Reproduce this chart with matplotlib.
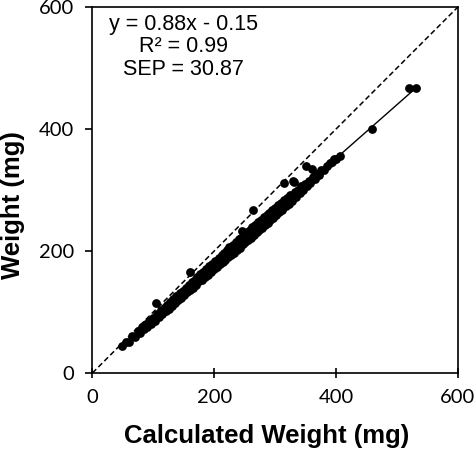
import numpy as np
import matplotlib.pyplot as plt

# calculated weight (mg) vs measured weight (mg)
calc_w = [55, 60, 65, 70, 74, 78, 82, 85, 88, 90, 93, 96, 99, 102, 105, 106,
          109, 112, 114, 117, 120, 122, 125, 128, 130, 133, 135, 138, 140, 143,
          146, 148, 150, 153, 156, 158, 160, 161, 163, 165, 168, 170, 172, 175,
          177, 180, 182, 185, 187, 190, 192, 195, 197, 200, 202, 204, 207, 209,
          212, 214, 216, 218, 221, 223, 225, 228, 230, 232, 235, 237, 240, 242,
          244, 245, 247, 249, 251, 254, 256, 258, 260, 262, 264, 265, 267, 270,
          272, 274, 277, 279, 281, 283, 286, 288, 290, 292, 295, 297, 300, 302,
          305, 307, 310, 312, 314, 315, 317, 320, 322, 325, 327, 330, 331, 332,
          334, 337, 340, 343, 346, 349, 351, 352, 355, 358, 361, 362, 365, 368,
          372, 376, 380, 385, 390, 393, 396, 400, 406, 459, 519, 531,
          49, 150, 180, 210, 240, 270, 300, 330, 200, 260, 290, 120, 90, 170,
          230, 250, 280, 310, 320, 190, 220, 140, 110, 130, 160]
weight = [50, 50, 60, 59, 68, 66, 76, 72, 80, 76, 86, 81, 90, 86, 115, 97,
          92, 103, 96, 107, 101, 112, 105, 117, 110, 122, 114, 126, 120, 131,
          123, 135, 128, 140, 132, 145, 136, 165, 149, 140, 153, 144, 157, 150,
          162, 153, 166, 158, 171, 161, 175, 166, 179, 170, 184, 174, 189, 178,
          193, 182, 197, 185, 201, 190, 206, 194, 209, 197, 214, 202, 219, 205,
          222, 233, 211, 227, 214, 231, 218, 235, 222, 239, 267, 226, 243, 231,
          247, 234, 251, 238, 255, 242, 259, 246, 263, 250, 267, 254, 271, 259,
          275, 264, 279, 268, 312, 283, 273, 287, 277, 291, 282, 314, 313, 296,
          289, 300, 295, 306, 300, 310, 339, 306, 315, 311, 334, 322, 318, 326,
          325, 333, 332, 340, 344, 346, 350, 351, 355, 400, 467, 467,
          44, 132, 158, 185, 211, 238, 264, 290, 176, 229, 255, 106, 79, 150,
          202, 220, 246, 273, 282, 167, 194, 123, 97, 114, 141]

slope = 0.88
intercept = -0.15
stats_text = 'y = 0.88x - 0.15\nR² = 0.99\nSEP = 30.87'

fig = plt.figure(figsize=(4.74, 4.51), dpi=100)
ax = fig.add_axes([0.195, 0.173, 0.771, 0.8115])

# 1:1 line
ax.plot([0, 600], [0, 600], color='black', linestyle=(0, (3.5, 2)), linewidth=1.1)
# fit line
xf = np.array([min(calc_w), max(calc_w)])
ax.plot(xf, slope * xf + intercept, color='black', linewidth=1.0)
ax.scatter(calc_w, weight, s=40, color='black', linewidths=0, zorder=3)

ax.set_xlim(0, 600)
ax.set_ylim(0, 600)
ax.set_xticks([0, 200, 400, 600])
ax.set_yticks([0, 200, 400, 600])

for sp in ax.spines.values():
    sp.set_linewidth(1.2)

ax.tick_params(axis='x', direction='inout', length=7, width=1.2, pad=8,
               labelsize=14.5, labelfontfamily='Lato')
ax.tick_params(axis='y', direction='out', length=5, width=1.2, pad=8,
               labelsize=14.5, labelfontfamily='Lato')

ax.set_xlabel('Calculated Weight (mg)', fontsize=18.5, fontweight='bold',
              fontfamily='Liberation Sans')
ax.set_ylabel('Weight (mg)', fontsize=18.5, fontweight='bold',
              fontfamily='Liberation Sans')
ax.xaxis.set_label_coords(0.478, -0.14)
ax.yaxis.set_label_coords(-0.184, 0.459)

ax.text(0.25, 0.982, stats_text, transform=ax.transAxes, ha='center', va='top',
        fontsize=15.5, fontfamily='Liberation Sans', linespacing=1.1)

fig.savefig('out.png', dpi=100)
